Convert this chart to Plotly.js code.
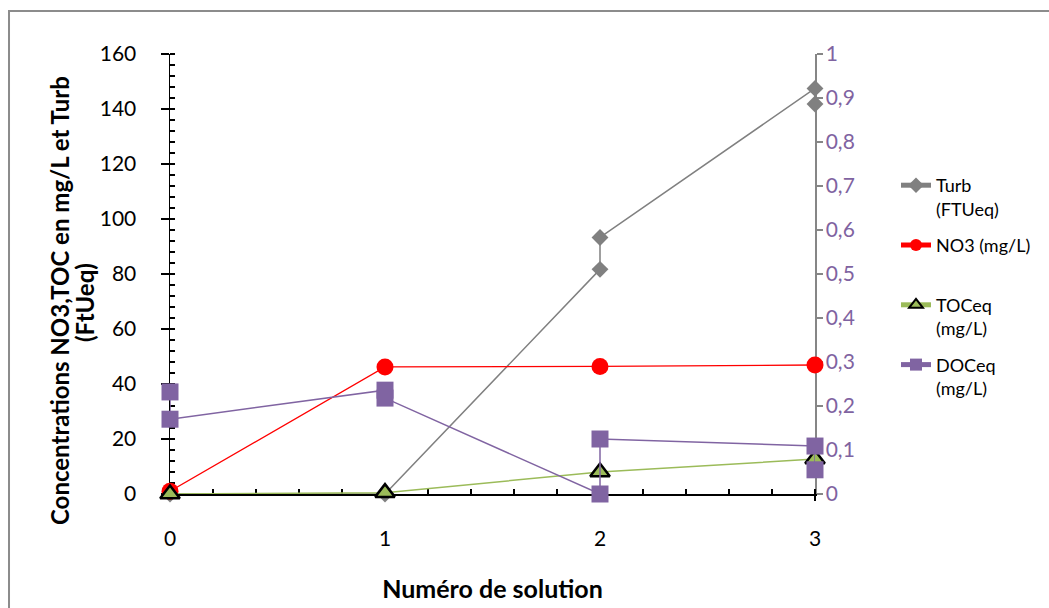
<!DOCTYPE html>
<html>
<head>
<meta charset="utf-8">
<script src="https://cdn.plot.ly/plotly-3.0.1.min.js"></script>
<style>
  html, body { margin: 0; padding: 0; background: #ffffff; }
  #chart { width: 1049px; height: 608px; }
</style>
</head>
<body>
<div id="chart"></div>
<script>
// ---- Data ----
const turbX = [0, 1, 2, 2, 3, 3];
const turbY = [0, 0, 81.7, 93.3, 147.5, 141.8];

const no3X = [0, 1, 2, 3];
const no3Y = [1, 46.2, 46.4, 46.9];

const tocX = [0, 1, 2, 3];
const tocY = [0, 0.5, 8, 12.7];

const docX = [0, 0, 1, 1, 2, 2, 3, 3];
const docY = [0.232, 0.170, 0.236, 0.218, 0, 0.125, 0.109, 0.055];

const seriesNames = ["Turb<br>(FTUeq)", "NO3 (mg/L)<br>\u00a0", "TOCeq<br>(mg/L)", "DOCeq<br>(mg/L)"];
const xTitle = "Numéro de solution";
const yTitleLines = ["Concentrations NO3,TOC en mg/L et Turb", "(FtUeq)"];

const FONT = "Lato, 'Open Sans', sans-serif";

const traces = [
  {
    x: turbX, y: turbY, name: seriesNames[0], legendgroup: "g1", type: "scatter", mode: "lines+markers",
    line: {color: "#808080", width: 1.5},
    marker: {symbol: "diamond", size: 13, color: "#808080"},
    cliponaxis: false, yaxis: "y"
  },
  {
    x: no3X, y: no3Y, name: seriesNames[1], legendgroup: "g2", type: "scatter", mode: "lines+markers",
    line: {color: "#ff0000", width: 1.3},
    marker: {symbol: "circle", size: 17, color: "#ff0000"},
    cliponaxis: false, yaxis: "y"
  },
  {
    x: tocX, y: tocY, name: seriesNames[2], legendgroup: "g3", type: "scatter", mode: "lines+markers",
    line: {color: "#9bbb59", width: 1.5},
    marker: {symbol: "triangle-up", size: 17, color: "#9bbb59", line: {color: "#000000", width: 2.5}},
    cliponaxis: false, yaxis: "y"
  },
  {
    x: docX, y: docY, name: seriesNames[3], legendgroup: "g4", type: "scatter", mode: "lines+markers",
    line: {color: "#8064a2", width: 1.5},
    marker: {symbol: "square", size: 17, color: "#8064a2"},
    cliponaxis: false, yaxis: "y2"
  }
];

const titleFont = {family: FONT, size: 24, color: "#000000", weight: "bold"};

const layout = {
  width: 1049, height: 608,
  margin: {l: 170, r: 234, t: 54, b: 114, autoexpand: false},
  paper_bgcolor: "#ffffff", plot_bgcolor: "rgba(0,0,0,0)",
  separators: ", ",
  font: {family: FONT, size: 19, color: "#000000"},
  showlegend: true,
  legend: {
    xref: "container", yref: "container",
    x: 896 / 1049, y: (608 - 167) / 608, xanchor: "left", yanchor: "top",
    font: {family: FONT, size: 18, color: "#000000"},
    valign: "top", traceorder: "grouped", tracegroupgap: 10,
    itemsizing: "constant", bgcolor: "rgba(0,0,0,0)", borderwidth: 0
  },
  xaxis: {
    range: [0, 3], tick0: 0, dtick: 1, showgrid: false, zeroline: false,
    showline: true, linecolor: "#000000", linewidth: 1.5, layer: "below traces",
    ticks: "outside", ticklen: 5, tickcolor: "#000000", tickwidth: 1.5,
    ticklabelstandoff: 20,
    tickfont: {family: FONT, size: 21, color: "#000000"},
    minor: {dtick: 0.2, ticks: "inside", ticklen: 5, tickcolor: "#000000", tickwidth: 1.2, showgrid: false},
    title: {text: xTitle, font: {family: FONT, size: 25, color: "#000000", weight: "bold"}, standoff: 32}
  },
  yaxis: {
    range: [0, 160], tick0: 0, dtick: 20, showgrid: false, zeroline: false,
    showline: true, linecolor: "#000000", linewidth: 1.5, layer: "below traces",
    ticks: "outside", ticklen: 8, tickcolor: "#000000", tickwidth: 1.5,
    ticklabelstandoff: 20,
    tickfont: {family: FONT, size: 21, color: "#000000"},
    minor: {dtick: 4, ticks: "inside", ticklen: 5, tickcolor: "#000000", tickwidth: 1.2, showgrid: false}
  },
  yaxis2: {
    range: [0, 1], tick0: 0, dtick: 0.1, overlaying: "y", side: "right",
    showgrid: false, zeroline: false,
    showline: true, linecolor: "#868686", linewidth: 1.5, layer: "below traces",
    ticks: "outside", ticklen: 6, tickcolor: "#868686", tickwidth: 1.5,
    ticklabelstandoff: -1,
    tickfont: {family: FONT, size: 21, color: "#7f63a1"}
  },
  annotations: [
    {text: yTitleLines[0], xref: "paper", yref: "paper", x: (59 - 170) / 645, y: (494 - 301) / 440,
     xanchor: "center", yanchor: "middle", textangle: -90, showarrow: false, font: titleFont},
    {text: yTitleLines[1], xref: "paper", yref: "paper", x: (84 - 170) / 645, y: (494 - 303) / 440,
     xanchor: "center", yanchor: "middle", textangle: -90, showarrow: false, font: titleFont}
  ],
  shapes: [
    {type: "rect", xref: "paper", yref: "paper", x0: -0.2496, x1: 1.45, y0: -0.3, y1: 1.0977,
     line: {color: "#8c8c8c", width: 2}, fillcolor: "rgba(0,0,0,0)", layer: "below"}
  ]
};

Plotly.newPlot("chart", traces, layout, {displayModeBar: false, staticPlot: true});
</script>
</body>
</html>
